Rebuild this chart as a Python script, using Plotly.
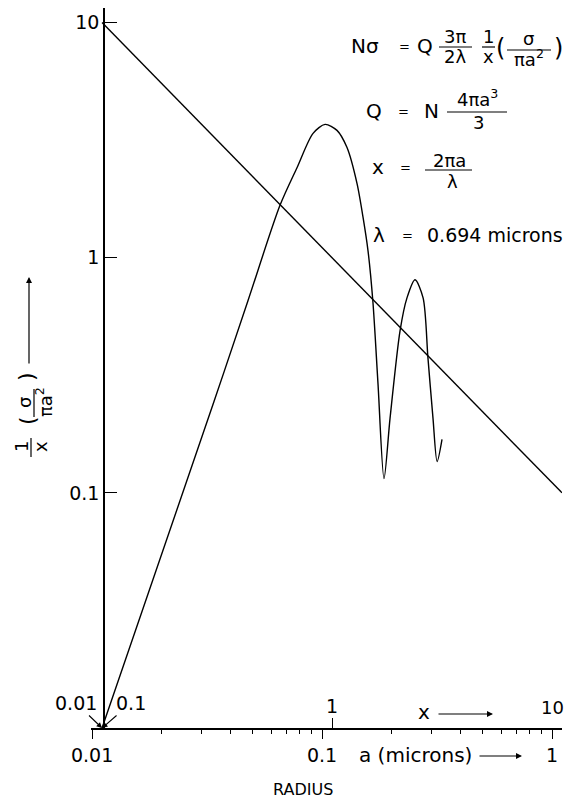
import numpy as np
import plotly.graph_objects as go

# Mie curve: (1/x)(sigma / pi a^2) against x
mie_x = [0.1, 0.307, 0.431, 0.594, 0.705, 0.827, 0.933, 1.051, 1.162, 1.284, 1.365, 1.434,
         1.507, 1.585, 1.683, 1.788, 1.976, 2.118, 2.296, 2.489, 2.613, 2.748, 2.864, 3.008]
mie_y = [0.01, 0.245, 0.656, 1.67, 2.42, 3.38, 3.69, 3.48, 2.94, 2.07, 1.48, 1.07,
         0.643, 0.290, 0.115, 0.208, 0.489, 0.675, 0.806, 0.675, 0.375, 0.208, 0.136, 0.169]

# reference line 1/x
line_x = [0.1, 10]
line_y = [10, 0.1]

# ticks
x_ticks = [1, 10]
y_ticks = [0.1, 1, 10]
a_ticks = [0.01, 0.1, 1]
a_minor = [0.02, 0.03, 0.04, 0.05, 0.06, 0.07, 0.08, 0.09,
           0.2, 0.3, 0.4, 0.5, 0.6, 0.7, 0.8, 0.9]

wavelength = 0.694
a_shift = np.log10(2 * np.pi / wavelength)  # x = 2*pi*a/lambda

# the page body has an 8px margin, so the figure is drawn 8px smaller
OFF = 8
W, H = 565, 796
L, R, T, B = 83, 11, 0, 76
FONT = "DejaVu Sans"

x_range = [-1.048, 1.0]
y_range = [-2.0, 1.062]


# positions below are given in page pixels
def px(x):
    return (x - OFF - L) / (W - L - R)


def py(y):
    return (H - B - (y - OFF)) / (H - T - B)


fig = go.Figure()

fig.add_trace(go.Scatter(x=line_x, y=line_y, mode="lines",
                         line=dict(color="black", width=1.4), hoverinfo="skip"))
fig.add_trace(go.Scatter(x=mie_x, y=mie_y, mode="lines",
                         line=dict(color="black", width=1.4, shape="spline", smoothing=0.8),
                         hoverinfo="skip"))
# invisible trace so the radius axis is drawn
fig.add_trace(go.Scatter(x=a_ticks, y=[0.01] * 3, xaxis="x2", mode="markers",
                         marker=dict(opacity=0), hoverinfo="skip"))

annotations = []
shapes = []


def txt(text, x, y, size=20, angle=0, xanchor="center"):
    annotations.append(dict(text=text, x=px(x), y=py(y), xref="paper", yref="paper",
                            showarrow=False, textangle=angle, xanchor=xanchor, yanchor="middle",
                            font=dict(family=FONT, size=size, color="black")))


def bar(x0, y0, x1, y1):
    shapes.append(dict(type="line", xref="paper", yref="paper",
                       x0=px(x0), y0=py(y0), x1=px(x1), y1=py(y1),
                       line=dict(color="black", width=1.2)))


def arrow(x0, y0, x1, y1):
    annotations.append(dict(text="", x=px(x1), y=py(y1), xref="paper", yref="paper",
                            ax=x0 - x1, ay=y0 - y1, showarrow=True, arrowhead=2,
                            arrowsize=1, arrowwidth=1.2, arrowcolor="black"))


# equations
txt("Nσ", 365, 46)
txt("=", 404, 46, 13)
txt("Q", 425, 46)
txt("3π", 455, 37, 18)
bar(439, 47, 472, 47)
txt("2λ", 455, 57, 18)
txt("1", 488, 37, 18)
bar(482, 47, 495, 47)
txt("x", 488, 57, 18)
txt("(", 500, 48, 24)
txt("σ", 528, 39, 18)
bar(507, 50, 551, 50)
txt("πa<sup>2</sup>", 529, 58, 18)
txt(")", 558, 48, 24)

txt("Q", 374, 111)
txt("=", 403, 111, 13)
txt("N", 431, 111)
txt("4πa<sup>3</sup>", 477, 98, 18)
bar(447, 112, 507, 112)
txt("3", 478, 123, 18)

txt("x", 378, 167)
txt("=", 405, 167, 13)
txt("2πa", 449, 160, 18)
bar(425, 170, 472, 170)
txt("λ", 452, 181, 18)

txt("λ", 379, 235)
txt("=", 407, 235, 13)
txt("0.694 microns", 425, 235, 19, xanchor="left")

# x-scale labels and captions
txt("1", 332, 706, 19)
txt("10", 552, 707, 18)
txt("x", 424, 712)
arrow(437, 714, 493, 714)
txt("a (microns)", 357, 755, xanchor="left")
arrow(478, 756, 522, 756)
txt("RADIUS", 303, 789, 16)

# rotated y title
txt("1", 21, 447, 18, -90)
bar(31, 438, 31, 457)
txt("x", 40, 447, 18, -90)
txt("(", 27, 421, 22, -90)
txt("σ", 24, 403, 18, -90)
bar(34, 389, 34, 417)
txt("πa<sup>2</sup>", 44, 402, 18, -90)
txt(")", 27, 377, 22, -90)
arrow(29, 365, 29, 277)

# origin labels
for label, dx in [("0.01", -26), ("0.1", 29)]:
    annotations.append(dict(text=label, x=-1, y=-2, xref="x", yref="y",
                            ax=dx, ay=-25, showarrow=True, arrowhead=2, arrowsize=1,
                            arrowwidth=1.1, arrowcolor="black",
                            font=dict(family=FONT, size=19, color="black")))

fig.update_layout(
    width=W, height=H,
    margin=dict(l=L, r=R, t=T, b=B),
    plot_bgcolor="white", paper_bgcolor="white",
    showlegend=False,
    font=dict(family=FONT, size=19, color="black"),
    xaxis=dict(type="log", range=x_range, showline=True, linecolor="black", linewidth=1.5,
               ticks="inside", tickvals=x_ticks, ticklen=10, tickwidth=1.2, tickcolor="black",
               showticklabels=False, showgrid=False, zeroline=False, automargin=False),
    xaxis2=dict(type="log", overlaying="x", anchor="y", side="bottom",
                range=[x_range[0] - a_shift, x_range[1] - a_shift],
                ticks="outside", tickvals=a_ticks, ticktext=["0.01", "0.1", "1"],
                ticklen=10, tickwidth=1.2, tickcolor="black",
                minor=dict(ticks="outside", tickvals=a_minor, ticklen=5, tickwidth=1.1,
                           tickcolor="black", showgrid=False),
                showline=False, showgrid=False, zeroline=False, automargin=False),
    yaxis=dict(type="log", range=y_range, anchor="free", position=px(104),
               showline=True, linecolor="black", linewidth=1.5,
               ticks="inside", tickvals=y_ticks, ticktext=["0.1", "1", "10"], ticklen=12,
               tickwidth=1.2, tickcolor="black", showgrid=False, zeroline=False,
               automargin=False),
    annotations=annotations,
    shapes=shapes,
)

fig.write_html("out.html")
